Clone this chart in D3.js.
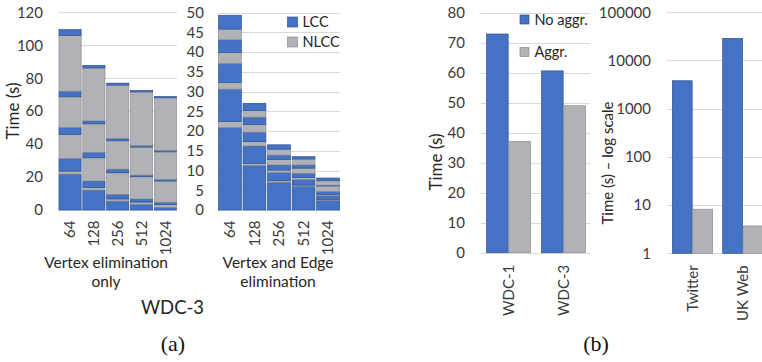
<!DOCTYPE html>
<html>
<head>
<meta charset="utf-8">
<script src="https://cdn.jsdelivr.net/npm/d3@7"></script>
<style>
  html, body { margin: 0; padding: 0; background: #fff; }
  svg { display: block; }
  text { font-family: Lato, "Open Sans", sans-serif; }
</style>
</head>
<body>
<svg id="chart" width="762" height="362"></svg>
<script>
// ---- data ----
const partitions = ["64", "128", "256", "512", "1024"];

// Vertex elimination only: per partition count, LCC pieces (5) and NLCC pieces (4),
// stacked alternately LCC, NLCC, LCC, ... from the bottom.
const vertexOnlyLCC = [
  [21.8, 7.7, 4.2, 3.4, 3.5],
  [12.1, 3.9, 3.3, 1.8, 1.5],
  [5.4, 2.8, 2.2, 1.4, 1.2],
  [3.4, 1.9, 1.0, 1.0, 0.8],
  [1.6, 1.5, 1.0, 0.9, 0.8]
];
const vertexOnlyNLCC = [
  [1.8, 14.6, 18.6, 33.9],
  [1.6, 14.1, 17.3, 32.1],
  [1.3, 13.1, 17.2, 32.4],
  [1.4, 13.5, 17.0, 32.5],
  [1.6, 12.9, 16.7, 31.9]
];

// Vertex and edge elimination
const vertexEdgeLCC = [
  [20.9, 8.2, 4.8, 3.2, 3.5],
  [11.3, 4.4, 2.4, 1.9, 1.8],
  [7.0, 2.1, 1.3, 1.1, 1.1],
  [6.0, 1.4, 1.1, 0.8, 0.6],
  [2.4, 1.0, 0.8, 0.2, 0.7]
];
const vertexEdgeNLCC = [
  [1.5, 1.7, 2.8, 2.7],
  [0.5, 1.1, 1.9, 1.7],
  [0.4, 0.6, 1.4, 1.5],
  [0.3, 0.5, 1.3, 1.5],
  [0.2, 0.3, 1.4, 1.1]
];

// Aggregation comparison (linear scale)
const graphsLinear = ["WDC-1", "WDC-3"];
const noAggrLinear = [72.9, 60.6];
const aggrLinear = [37.1, 49.0];

// Aggregation comparison (log scale)
const graphsLog = ["Twitter", "UK Web"];
const noAggrLog = [3800, 28800];
const aggrLog = [8.2, 3.7];

// tick values
const ticksVertexOnly = [0, 20, 40, 60, 80, 100, 120];
const ticksVertexEdge = [0, 5, 10, 15, 20, 25, 30, 35, 40, 45, 50];
const ticksLinear = [0, 10, 20, 30, 40, 50, 60, 70, 80];
const ticksLog = [1, 10, 100, 1000, 10000, 100000];

// ---- styling ----
const BLUE = "#4472c4", BLUE_EDGE = "#2f528f";
const GREY = "#b1b2b6", GREY_EDGE = "#8c8d91";
const GRID = "#d9d9d9";
const TICK_TXT = "#3a3a3a";
const TITLE_TXT = "#262626";
const TICK_SIZE = "15px";

const svg = d3.select("#chart");
svg.append("rect").attr("width", 762).attr("height", 362).attr("fill", "#fff");

function yAxis(g, scale, x, ticks) {
  const ax = d3.axisLeft(scale).tickValues(ticks).tickSize(0).tickPadding(0)
    .tickFormat(d3.format("d"));
  const a = g.append("g").attr("transform", `translate(${x},0)`).call(ax);
  a.select(".domain").remove();
  a.selectAll("text").attr("fill", TICK_TXT).style("font-size", TICK_SIZE)
    .style("font-family", "Lato");
}

function grid(g, scale, ticks, x0, x1) {
  g.append("g").selectAll("line").data(ticks).join("line")
    .attr("x1", x0).attr("x2", x1)
    .attr("y1", d => Math.round(scale(d)) + 0.5).attr("y2", d => Math.round(scale(d)) + 0.5)
    .attr("stroke", GRID).attr("stroke-width", 1);
}

function xAxis(g, scale, y, labelGap) {
  const ax = d3.axisBottom(scale).tickSize(0).tickPadding(0);
  const a = g.append("g").attr("transform", `translate(0,${y})`).call(ax);
  a.select(".domain").remove();
  a.selectAll("text")
    .attr("fill", TICK_TXT).style("font-size", TICK_SIZE).style("font-family", "Lato")
    .attr("text-anchor", "end")
    .attr("transform", `translate(0,${labelGap}) rotate(-90)`)
    .attr("x", 0).attr("y", 0).attr("dy", "0.35em");
}

function stackedPanel(opts) {
  const g = svg.append("g");
  const x = d3.scaleBand().domain(partitions).range(opts.xr).paddingInner(0.07).paddingOuter(0.02);
  const y = d3.scaleLinear().domain(opts.yd).range(opts.yr);
  grid(g, y, opts.ticks, opts.xr[0], opts.xr[1]);
  yAxis(g, y, opts.labelX, opts.ticks);

  partitions.forEach((p, i) => {
    const pieces = [];
    let acc = 0;
    const lcc = opts.lcc[i], nlcc = opts.nlcc[i];
    for (let k = 0; k < lcc.length; k++) {
      pieces.push({ kind: "LCC", y0: acc, y1: acc + lcc[k] }); acc += lcc[k];
      if (k < nlcc.length) {
        pieces.push({ kind: "NLCC", y0: acc, y1: acc + nlcc[k] }); acc += nlcc[k];
      }
    }
    g.append("g").selectAll("rect").data(pieces).join("rect")
      .attr("x", x(p)).attr("width", x.bandwidth())
      .attr("y", d => y(d.y1)).attr("height", d => y(d.y0) - y(d.y1))
      .attr("fill", d => d.kind === "LCC" ? BLUE : GREY)
      .attr("stroke", d => d.kind === "LCC" ? BLUE_EDGE : GREY_EDGE)
      .attr("stroke-width", 0.7);
  });
  xAxis(g, x, opts.yr[0], 10.5);
  return g;
}

// ---- (a) left: vertex elimination only ----
stackedPanel({
  xr: [58.5, 177], yd: [0, 120], yr: [210, 12.3], ticks: ticksVertexOnly, labelX: 43,
  lcc: vertexOnlyLCC, nlcc: vertexOnlyNLCC
});
svg.append("text").attr("transform", "translate(19,111) rotate(-90)")
  .attr("text-anchor", "middle").attr("fill", TITLE_TXT).style("font-size", "17px")
  .text("Time (s)");

// ---- (a) right: vertex and edge elimination ----
stackedPanel({
  xr: [218, 340], yd: [0, 50], yr: [210, 12.5], ticks: ticksVertexEdge, labelX: 204,
  lcc: vertexEdgeLCC, nlcc: vertexEdgeNLCC
});

// legend for stacked panels
const legA = [{ k: "LCC", c: BLUE, e: BLUE_EDGE, y: 17 }, { k: "NLCC", c: GREY, e: GREY_EDGE, y: 37 }];
legA.forEach(d => {
  svg.append("rect").attr("x", 287.5).attr("y", d.y).attr("width", 10).attr("height", 10)
    .attr("fill", d.c).attr("stroke", d.e).attr("stroke-width", 0.7);
  svg.append("text").attr("x", 302.5).attr("y", d.y + 10).attr("fill", TITLE_TXT)
    .style("font-size", "14.5px").text(d.k);
});

// group captions
function caption(lines, cx, y0, size, dy) {
  lines.forEach((t, i) => {
    svg.append("text").attr("x", cx).attr("y", y0 + i * dy).attr("text-anchor", "middle")
      .attr("fill", TITLE_TXT).style("font-size", size + "px").text(t);
  });
}
caption(["Vertex elimination", "only"], 106, 268, 15.5, 18.5);
caption(["Vertex and Edge", "elimination"], 278, 268, 15.5, 18.5);
caption(["WDC-3"], 172.5, 313.5, 18.5, 0);

// ---- (b): aggregation comparison ----
function groupedPanel(opts) {
  const g = svg.append("g");
  const x = d3.scaleBand().domain(opts.cats).range(opts.xr).paddingInner(0.2).paddingOuter(0.1);
  const sub = d3.scaleBand().domain(["no", "agg"]).range([0, x.bandwidth()]).paddingInner(0.03);
  const y = opts.log
    ? d3.scaleLog().domain(opts.yd).range(opts.yr)
    : d3.scaleLinear().domain(opts.yd).range(opts.yr);
  grid(g, y, opts.ticks, opts.xr[0] - 0.5, opts.gridEnd);
  yAxis(g, y, opts.labelX, opts.ticks);
  const rows = opts.cats.map((c, i) => [
    { c, s: "no", v: opts.no[i] }, { c, s: "agg", v: opts.agg[i] }
  ]).flat();
  g.append("g").selectAll("rect").data(rows).join("rect")
    .attr("x", d => x(d.c) + sub(d.s)).attr("width", sub.bandwidth())
    .attr("y", d => y(d.v)).attr("height", d => y(opts.yd[0]) - y(d.v))
    .attr("fill", d => d.s === "no" ? BLUE : GREY)
    .attr("stroke", d => d.s === "no" ? BLUE_EDGE : GREY_EDGE)
    .attr("stroke-width", 0.7);
  xAxis(g, x, opts.yr[0], 12);
  return g;
}

groupedPanel({
  cats: graphsLinear, xr: [481, 591], yd: [0, 80], yr: [252.7, 12.7], ticks: ticksLinear,
  labelX: 465, gridEnd: 590, no: noAggrLinear, agg: aggrLinear
});
svg.append("text").attr("transform", "translate(442,162) rotate(-90)")
  .attr("text-anchor", "middle").attr("fill", TITLE_TXT).style("font-size", "17px")
  .text("Time (s)");

const legB = [{ k: "No aggr.", c: BLUE, e: BLUE_EDGE, y: 15 }, { k: "Aggr.", c: GREY, e: GREY_EDGE, y: 47.5 }];
legB.forEach(d => {
  svg.append("rect").attr("x", 520).attr("y", d.y).attr("width", 9).attr("height", 9)
    .attr("fill", d.c).attr("stroke", d.e).attr("stroke-width", 0.7);
  svg.append("text").attr("x", 534.5).attr("y", d.y + 9.5).attr("fill", TITLE_TXT)
    .style("font-size", "14.5px").text(d.k);
});

groupedPanel({
  cats: graphsLog, xr: [667.3, 768], yd: [1, 100000], yr: [253.3, 12.3], ticks: ticksLog,
  labelX: 651, gridEnd: 762, log: true, no: noAggrLog, agg: aggrLog
});
svg.append("text").attr("transform", "translate(613,163) rotate(-90)")
  .attr("text-anchor", "middle").attr("fill", TITLE_TXT).style("font-size", "15px")
  .text("Time (s) – log scale");

// sub-figure tags
[["(a)", 173], ["(b)", 596]].forEach(([t, cx]) => {
  svg.append("text").attr("x", cx).attr("y", 351).attr("text-anchor", "middle")
    .attr("fill", "#111").style("font-family", "'Liberation Serif', serif")
    .style("font-size", "22px").text(t);
});
</script>
</body>
</html>
